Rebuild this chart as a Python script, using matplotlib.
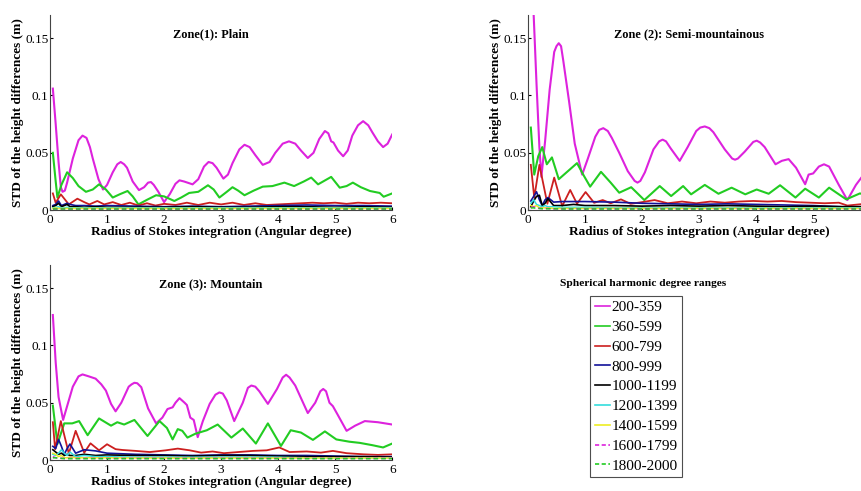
import matplotlib
matplotlib.use("Agg")
import matplotlib.pyplot as plt
from matplotlib.lines import Line2D

plt.rcParams["font.family"] = ["Liberation Serif", "DejaVu Serif"]

# degree ranges (legend labels)
ranges = ["200-359", "360-599", "600-799", "800-999", "1000-1199",
          "1200-1399", "1400-1599", "1600-1799", "1800-2000"]
colors = ["#dd22dd", "#22cc22", "#cc1f1f", "#121299", "#000000",
          "#33dddd", "#eeee22", "#dd22dd", "#22cc22"]
styles = ["-", "-", "-", "-", "-", "-", "-", "--", "--"]
widths = [1.5, 1.5, 1.3, 1.2, 1.2, 1.1, 1.1, 1.1, 1.1]

# common radius grid for the small-amplitude ranges
x_minor = [0.05, 0.1, 0.15, 0.2, 0.25, 0.3, 0.35, 0.45, 0.6, 0.8, 1.0,
           1.5, 2.0, 2.5, 3.0, 3.5, 4.0, 4.5, 5.0, 5.5, 6.0]

# ---------------- Zone 1: Plain ----------------
z1_mag_x = [0.05, 0.1, 0.15, 0.19, 0.22, 0.26, 0.3, 0.4, 0.5, 0.57, 0.64, 0.7, 0.75, 0.85,
            0.93, 1.0, 1.1, 1.18, 1.24, 1.3, 1.35, 1.45, 1.56, 1.65, 1.72, 1.77, 1.82, 1.9,
            2.0, 2.1, 2.2, 2.27, 2.35, 2.5, 2.6, 2.7, 2.78, 2.85, 2.92, 3.04, 3.12, 3.2,
            3.32, 3.41, 3.5, 3.6, 3.73, 3.85, 3.95, 4.08, 4.19, 4.3, 4.4, 4.52, 4.62, 4.72,
            4.82, 4.88, 4.93, 4.97, 5.05, 5.14, 5.22, 5.3, 5.4, 5.49, 5.58, 5.65, 5.75,
            5.84, 5.92, 6.0]
z1_mag = [0.106, 0.075, 0.042, 0.02, 0.016, 0.017, 0.024, 0.045, 0.061, 0.065, 0.063,
          0.055, 0.045, 0.027, 0.018, 0.022, 0.033, 0.040, 0.042, 0.040, 0.037, 0.025,
          0.0175, 0.02, 0.024, 0.0245, 0.022, 0.016, 0.007, 0.014, 0.023, 0.026, 0.025,
          0.0225, 0.027, 0.038, 0.042, 0.041, 0.037, 0.0275, 0.031, 0.041, 0.053, 0.057,
          0.055, 0.048, 0.0395, 0.042, 0.05, 0.058, 0.060, 0.058, 0.052, 0.0455, 0.050,
          0.062, 0.069, 0.067, 0.060, 0.059, 0.052, 0.047, 0.052, 0.065, 0.074, 0.0776,
          0.074, 0.068, 0.060, 0.055, 0.058, 0.066]
z1_grn_x = [0.05, 0.1, 0.13, 0.2, 0.3, 0.4, 0.5, 0.63, 0.75, 0.86, 0.98, 1.1, 1.23,
            1.36, 1.45, 1.55, 1.7, 1.86, 2.0, 2.18, 2.3, 2.44, 2.6, 2.77, 2.87, 2.97,
            3.1, 3.2, 3.3, 3.41, 3.57, 3.73, 3.9, 4.11, 4.28, 4.45, 4.58, 4.7, 4.93,
            5.08, 5.2, 5.31, 5.45, 5.61, 5.78, 5.85, 6.0]
z1_grn = [0.050, 0.025, 0.011, 0.022, 0.033, 0.028, 0.021, 0.016, 0.018, 0.0225,
          0.018, 0.011, 0.014, 0.0167, 0.012, 0.005, 0.009, 0.013, 0.012, 0.008,
          0.011, 0.015, 0.016, 0.0217, 0.018, 0.011, 0.016, 0.020, 0.017, 0.013,
          0.017, 0.0205, 0.021, 0.024, 0.021, 0.025, 0.0284, 0.0225, 0.029, 0.0196,
          0.021, 0.024, 0.020, 0.0167, 0.015, 0.0117, 0.0146]
z1_red_x = [0.05, 0.1, 0.19, 0.33, 0.48, 0.6, 0.69, 0.83, 0.95, 1.1, 1.25, 1.4, 1.55,
            1.7, 1.85, 2.0, 2.2, 2.4, 2.6, 2.8, 3.0, 3.2, 3.4, 3.6, 3.8, 4.0, 4.2,
            4.4, 4.6, 4.8, 5.0, 5.2, 5.4, 5.6, 5.8, 6.0]
z1_red = [0.0146, 0.0064, 0.0138, 0.005, 0.010, 0.007, 0.005, 0.008, 0.005, 0.007,
          0.0045, 0.0065, 0.004, 0.006, 0.004, 0.0055, 0.0045, 0.0065, 0.0045, 0.0065,
          0.005, 0.0065, 0.0045, 0.006, 0.0045, 0.005, 0.0055, 0.006, 0.0065, 0.006,
          0.0065, 0.0055, 0.0065, 0.006, 0.0065, 0.006]
z1_blu = [0.004, 0.005, 0.008, 0.004, 0.005, 0.006, 0.005, 0.004, 0.004, 0.0035, 0.004,
          0.0035, 0.003, 0.0035, 0.003, 0.0035, 0.004, 0.0045, 0.004, 0.004, 0.0035]
z1_blk = [0.003, 0.004, 0.006, 0.003, 0.004, 0.005, 0.003, 0.003, 0.0025, 0.003, 0.0025,
          0.0025, 0.0025, 0.003, 0.0025, 0.0025, 0.003, 0.003, 0.0025, 0.003, 0.0025]
z1_cyn = [0.002, 0.0025, 0.003, 0.002, 0.002, 0.0025, 0.002, 0.002, 0.002, 0.002, 0.002,
          0.002, 0.002, 0.002, 0.002, 0.002, 0.002, 0.002, 0.002, 0.002, 0.002]
z1_yel = [0.0015, 0.002, 0.0015, 0.0015, 0.0015, 0.0015, 0.0015, 0.0015, 0.0015, 0.0015,
          0.0015, 0.0015, 0.0015, 0.0015, 0.0015, 0.0015, 0.0015, 0.0015, 0.0015, 0.0015, 0.0015]
z1_mgd = [0.001] * 21
z1_grd = [0.0012] * 21

# ---------------- Zone 2: Semi-mountainous ----------------
z2_mag_x = [0.05, 0.1, 0.15, 0.2, 0.235, 0.3, 0.38, 0.46, 0.5, 0.54, 0.58, 0.62, 0.72,
            0.82, 0.95, 1.05, 1.18, 1.25, 1.32, 1.4, 1.47, 1.6, 1.75, 1.87, 1.92, 1.97,
            2.05, 2.2, 2.3, 2.36, 2.42, 2.5, 2.66, 2.8, 2.95, 3.02, 3.1, 3.18, 3.25, 3.45,
            3.58, 3.63, 3.68, 3.8, 3.95, 4.01, 4.07, 4.15, 4.34, 4.45, 4.57, 4.7, 4.86,
            4.92, 5.0, 5.1, 5.19, 5.28, 5.45, 5.6, 5.75, 5.9, 6.0]
z2_mag = [0.21, 0.17, 0.11, 0.055, 0.029, 0.06, 0.105, 0.138, 0.143, 0.1456, 0.143, 0.13,
          0.095, 0.058, 0.031, 0.045, 0.064, 0.070, 0.0715, 0.069, 0.063, 0.05, 0.034,
          0.0255, 0.024, 0.0255, 0.033, 0.053, 0.060, 0.0615, 0.060, 0.054, 0.043, 0.055,
          0.069, 0.072, 0.073, 0.0715, 0.068, 0.053, 0.045, 0.044, 0.045, 0.051, 0.0595,
          0.0606, 0.059, 0.055, 0.040, 0.043, 0.0445, 0.037, 0.0226, 0.031, 0.032, 0.038,
          0.040, 0.038, 0.022, 0.0088, 0.022, 0.032, 0.034]
z2_grn_x = [0.05, 0.11, 0.18, 0.25, 0.33, 0.42, 0.54, 0.7, 0.86, 0.98, 1.09, 1.28, 1.45,
            1.6, 1.81, 2.04, 2.31, 2.51, 2.72, 2.86, 3.1, 3.34, 3.57, 3.81, 4.01, 4.22,
            4.42, 4.69, 4.86, 5.1, 5.28, 5.58, 5.82, 6.0]
z2_grn = [0.072, 0.031, 0.047, 0.055, 0.040, 0.046, 0.027, 0.034, 0.041, 0.030, 0.0205,
          0.0334, 0.024, 0.0152, 0.020, 0.0088, 0.021, 0.0123, 0.021, 0.0138, 0.022,
          0.0143, 0.0196, 0.0138, 0.018, 0.0143, 0.0217, 0.011, 0.0187, 0.011, 0.0196,
          0.0094, 0.0146, 0.012]
z2_red_x = [0.05, 0.11, 0.2, 0.34, 0.46, 0.6, 0.74, 0.86, 1.01, 1.16, 1.31, 1.45, 1.63,
            1.8, 2.0, 2.22, 2.45, 2.7, 2.95, 3.2, 3.45, 3.7, 3.95, 4.2, 4.45, 4.7, 4.95,
            5.2, 5.45, 5.6, 5.8, 6.0]
z2_red = [0.0395, 0.011, 0.0395, 0.0056, 0.0284, 0.0035, 0.0176, 0.0056, 0.0158, 0.0064,
          0.0088, 0.006, 0.0094, 0.0055, 0.007, 0.0088, 0.006, 0.0075, 0.006, 0.0075,
          0.0065, 0.0075, 0.008, 0.0075, 0.008, 0.007, 0.0065, 0.006, 0.0065, 0.004,
          0.005, 0.006]
z2_blu = [0.008, 0.012, 0.016, 0.009, 0.004, 0.009, 0.011, 0.007, 0.0075, 0.0075, 0.0075,
          0.007, 0.006, 0.0055, 0.005, 0.0055, 0.005, 0.0045, 0.004, 0.003, 0.003]
z2_blk = [0.003, 0.008, 0.012, 0.013, 0.004, 0.006, 0.010, 0.004, 0.004, 0.005, 0.004,
          0.004, 0.0035, 0.004, 0.0035, 0.004, 0.0035, 0.003, 0.0035, 0.003, 0.003]
z2_cyn = [0.006, 0.009, 0.005, 0.004, 0.003, 0.004, 0.003, 0.003, 0.0025, 0.0025, 0.0025,
          0.002, 0.002, 0.002, 0.002, 0.002, 0.002, 0.002, 0.002, 0.002, 0.002]
z2_yel = [0.004, 0.003, 0.004, 0.002, 0.002, 0.002, 0.002, 0.0015, 0.0015, 0.0015, 0.0015,
          0.0015, 0.0015, 0.0015, 0.0015, 0.0015, 0.0015, 0.0015, 0.0015, 0.0015, 0.0015]
z2_mgd = [0.002, 0.003, 0.002, 0.0015, 0.0015, 0.0015, 0.0015, 0.0012, 0.0012, 0.0012,
          0.0012, 0.0012, 0.0012, 0.0012, 0.0012, 0.0012, 0.0012, 0.0012, 0.0012, 0.0012, 0.0012]
z2_grd = [0.002, 0.002, 0.0015, 0.0015, 0.0012, 0.0012, 0.0012, 0.0012, 0.001, 0.001,
          0.001, 0.001, 0.001, 0.001, 0.001, 0.001, 0.001, 0.001, 0.001, 0.001, 0.001]

# ---------------- Zone 3: Mountain ----------------
z3_mag_x = [0.05, 0.1, 0.15, 0.23, 0.3, 0.4, 0.5, 0.57, 0.68, 0.8, 0.9, 0.98, 1.07,
            1.15, 1.25, 1.38, 1.43, 1.48, 1.53, 1.6, 1.72, 1.86, 1.97, 2.06, 2.15, 2.2,
            2.27, 2.36, 2.4, 2.46, 2.52, 2.59, 2.68, 2.8, 2.9, 2.97, 3.03, 3.1, 3.23,
            3.38, 3.47, 3.53, 3.6, 3.67, 3.82, 3.98, 4.08, 4.14, 4.2, 4.3, 4.52, 4.65,
            4.74, 4.79, 4.84, 4.9, 4.96, 5.05, 5.2, 5.35, 5.52, 5.75, 6.0]
z3_mag = [0.1265, 0.085, 0.055, 0.035, 0.047, 0.064, 0.073, 0.0747, 0.073, 0.071, 0.066,
          0.0606, 0.049, 0.0425, 0.050, 0.064, 0.066, 0.0674, 0.067, 0.0636, 0.045, 0.032,
          0.037, 0.0445, 0.046, 0.050, 0.054, 0.050, 0.048, 0.037, 0.035, 0.020, 0.034,
          0.049, 0.057, 0.059, 0.058, 0.052, 0.034, 0.050, 0.063, 0.065, 0.064, 0.060,
          0.049, 0.062, 0.072, 0.0744, 0.072, 0.065, 0.041, 0.050, 0.060, 0.062, 0.060,
          0.050, 0.047, 0.039, 0.0255, 0.030, 0.034, 0.033, 0.031]
z3_grn_x = [0.05, 0.13, 0.25, 0.39, 0.51, 0.66, 0.86, 1.07, 1.18, 1.3, 1.48, 1.71, 1.92,
            2.05, 2.15, 2.24, 2.32, 2.41, 2.55, 2.75, 2.94, 3.18, 3.38, 3.61, 3.82, 4.05,
            4.22, 4.4, 4.61, 4.82, 5.02, 5.25, 5.43, 5.65, 5.84, 6.0]
z3_grn = [0.0475, 0.014, 0.032, 0.032, 0.034, 0.0217, 0.0363, 0.030, 0.033, 0.031, 0.035,
          0.021, 0.034, 0.028, 0.018, 0.027, 0.0255, 0.0196, 0.023, 0.026, 0.031, 0.0196,
          0.0275, 0.0144, 0.032, 0.0123, 0.026, 0.024, 0.0176, 0.025, 0.018, 0.016, 0.015,
          0.013, 0.011, 0.0144]
z3_red_x = [0.05, 0.09, 0.19, 0.33, 0.45, 0.6, 0.71, 0.86, 1.0, 1.15, 1.27, 1.5, 1.75,
            2.03, 2.24, 2.45, 2.65, 2.85, 3.05, 3.3, 3.56, 3.8, 4.02, 4.2, 4.5, 4.75,
            4.96, 5.2, 5.5, 5.75, 6.0]
z3_red = [0.033, 0.0094, 0.034, 0.0056, 0.0255, 0.0064, 0.0146, 0.0085, 0.0138, 0.0095,
          0.0088, 0.008, 0.007, 0.0085, 0.010, 0.0085, 0.0065, 0.0075, 0.006, 0.007, 0.008,
          0.0085, 0.011, 0.007, 0.0075, 0.0065, 0.008, 0.006, 0.005, 0.0045, 0.005]
z3_blu = [0.012, 0.010, 0.018, 0.012, 0.005, 0.010, 0.014, 0.006, 0.009, 0.008, 0.006,
          0.005, 0.0045, 0.004, 0.0045, 0.0045, 0.004, 0.004, 0.0035, 0.003, 0.003]
z3_blk = [0.009, 0.007, 0.005, 0.006, 0.004, 0.005, 0.004, 0.004, 0.005, 0.004, 0.0045,
          0.004, 0.004, 0.0035, 0.004, 0.004, 0.0035, 0.003, 0.003, 0.003, 0.0025]
z3_cyn = [0.005, 0.004, 0.006, 0.009, 0.006, 0.004, 0.007, 0.003, 0.004, 0.003, 0.003,
          0.0025, 0.0025, 0.0025, 0.0025, 0.0025, 0.0025, 0.002, 0.002, 0.002, 0.002]
z3_yel = [0.006, 0.005, 0.003, 0.004, 0.002, 0.002, 0.0025, 0.002, 0.002, 0.002, 0.002,
          0.0018, 0.0018, 0.0018, 0.0018, 0.0018, 0.0018, 0.0018, 0.0018, 0.0018, 0.0018]
z3_mgd = [0.003, 0.002, 0.002, 0.0015, 0.0015, 0.0015, 0.0015, 0.0015, 0.0015, 0.0015,
          0.0015, 0.0015, 0.0015, 0.0015, 0.0015, 0.0015, 0.0015, 0.0015, 0.0015, 0.0015, 0.0015]
z3_grd = [0.002, 0.002, 0.0015, 0.0015, 0.0012, 0.0012, 0.0012, 0.0012, 0.0012, 0.0012,
          0.0012, 0.0012, 0.0012, 0.0012, 0.0012, 0.0012, 0.0012, 0.0012, 0.0012, 0.0012, 0.0012]

zones = [
    ("Zone(1): Plain", [0.058, 0.572, 0.397, 0.397],
     [(z1_mag_x, z1_mag), (z1_grn_x, z1_grn), (z1_red_x, z1_red), (x_minor, z1_blu),
      (x_minor, z1_blk), (x_minor, z1_cyn), (x_minor, z1_yel), (x_minor, z1_mgd),
      (x_minor, z1_grd)]),
    ("Zone (2): Semi-mountainous", [0.6125, 0.572, 0.397, 0.397],
     [(z2_mag_x, z2_mag), (z2_grn_x, z2_grn), (z2_red_x, z2_red), (x_minor, z2_blu),
      (x_minor, z2_blk), (x_minor, z2_cyn), (x_minor, z2_yel), (x_minor, z2_mgd),
      (x_minor, z2_grd)]),
    ("Zone (3): Mountain", [0.058, 0.063, 0.397, 0.397],
     [(z3_mag_x, z3_mag), (z3_grn_x, z3_grn), (z3_red_x, z3_red), (x_minor, z3_blu),
      (x_minor, z3_blk), (x_minor, z3_cyn), (x_minor, z3_yel), (x_minor, z3_mgd),
      (x_minor, z3_grd)]),
]

fig = plt.figure(figsize=(8.62, 4.91), dpi=100)

for i, (title, pos, series) in enumerate(zones):
    ax = fig.add_axes(pos)
    for (xs, ys), c, ls, lw in zip(series, colors, styles, widths):
        ax.plot(xs, ys, color=c, linestyle=ls, linewidth=lw,
                dashes=(3, 2) if ls == "--" else (None, None))
    ax.set_xlim(0, 6)
    ax.set_ylim(0, 0.17)
    ax.set_xticks(range(7))
    # the right panel runs past the figure edge, its last label is not shown
    ax.set_xticklabels([str(k) for k in range(6)] + ([""] if i == 1 else ["6"]))
    ax.set_yticks([0, 0.05, 0.1, 0.15])
    ax.set_yticklabels(["0", "0.05", "0.1", "0.15"])
    ax.spines["top"].set_visible(False)
    ax.spines["right"].set_visible(False)
    for s in ("left", "bottom"):
        ax.spines[s].set_color("#444444")
        ax.spines[s].set_linewidth(0.8)
    ax.tick_params(direction="in", length=2, labelsize=9.5, pad=1)
    ax.tick_params(axis="x", pad=3)
    ax.set_ylabel("STD of the height differences (m)", fontsize=9.5, fontweight="bold", labelpad=1)
    ax.set_xlabel("Radius of Stokes integration (Angular degree)", fontsize=9.5,
                  fontweight="bold", labelpad=0)
    ax.text(0.47, 0.9, title, transform=ax.transAxes, ha="center", va="center",
            fontsize=8.8, fontweight="bold")

handles = [Line2D([], [], color=c, linestyle=ls, linewidth=1.2,
                  dashes=(2.5, 1.5) if ls == "--" else (None, None))
           for c, ls in zip(colors, styles)]
fig.text(643 / 862, 1 - 283 / 491, "Spherical harmonic degree ranges", ha="center",
         va="center", fontsize=8.2, fontweight="bold")
leg = fig.legend(handles, ranges, loc="upper left", bbox_to_anchor=(590 / 862, 1 - 296 / 491),
                 fontsize=11, frameon=True, fancybox=False, handlelength=1.0,
                 handletextpad=0.1, labelspacing=0.4, borderpad=0.3, borderaxespad=0)
leg.get_frame().set_edgecolor("#222222")
leg.get_frame().set_linewidth(0.8)

fig.savefig("out.png", dpi=100)
